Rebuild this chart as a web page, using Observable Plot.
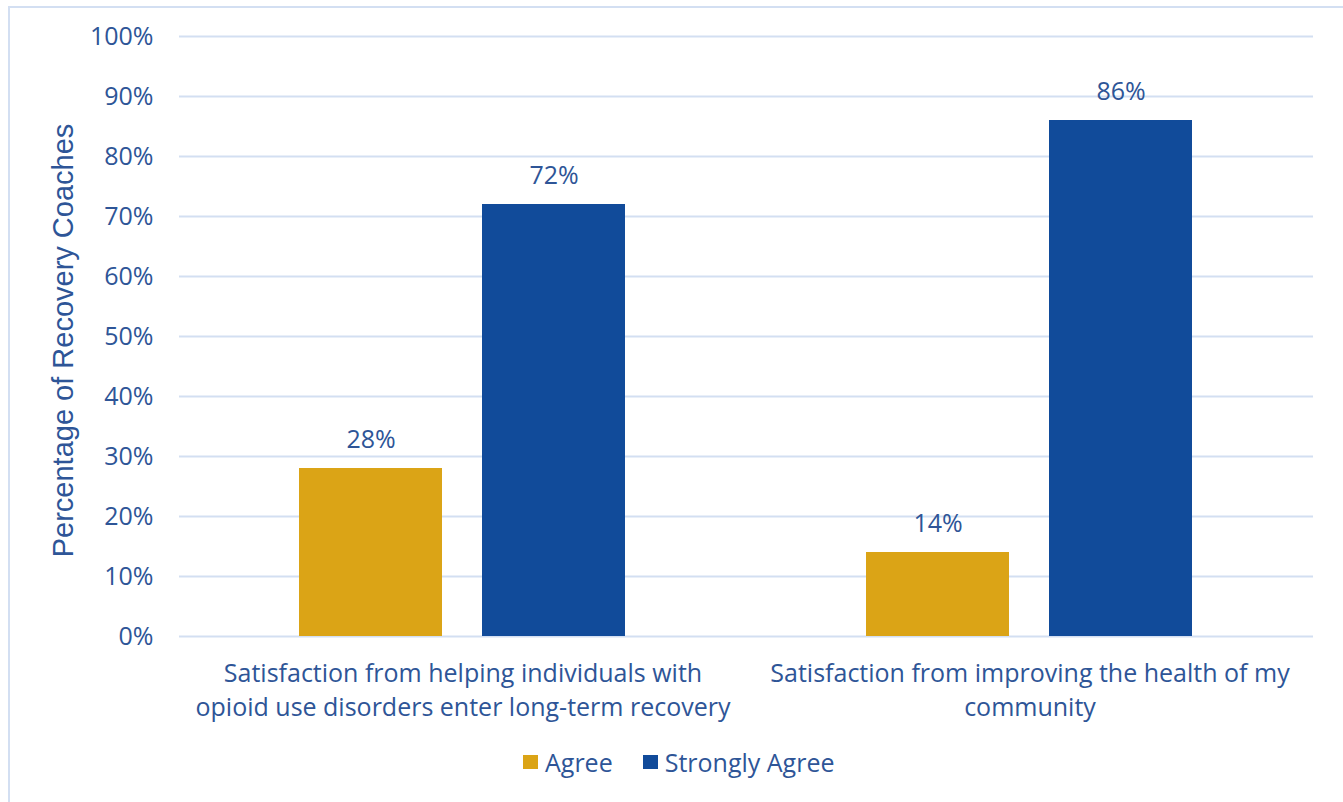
<!DOCTYPE html>
<html>
<head>
<meta charset="utf-8">
<script src="https://cdn.jsdelivr.net/npm/d3@7"></script>
<script src="https://cdn.jsdelivr.net/npm/@observablehq/plot@0.6"></script>
<style>
  html, body { margin: 0; padding: 0; background: #fff; overflow: hidden; width: 1343px; height: 802px; }
  #frame { position: absolute; left: 8px; top: 6px; width: 1400px; height: 900px; border: 2px solid #d3dff2; box-sizing: border-box; }
  #chart { position: absolute; left: 0; top: 0; }
  #legend { position: absolute; left: 523px; top: 744px; height: 36px; line-height: 36px; display: flex; align-items: center; font-family: "Open Sans", sans-serif; font-size: 25px; color: #2E5597; }
  .item { display: flex; align-items: center; gap: 7px; margin-right: 30px; }
  .sw { width: 15px; height: 14px; display: inline-block; }
</style>
</head>
<body>
<div id="frame"></div>
<div id="chart"></div>
<div id="legend"></div>
<script>
const categories = [
  "Satisfaction from helping individuals with opioid use disorders enter long-term recovery",
  "Satisfaction from improving the health of my community"
];
const categoryLabelLines = [
  ["Satisfaction from helping individuals with", "opioid use disorders enter long-term recovery"],
  ["Satisfaction from improving the health of my", "community"]
];
const series = ["Agree", "Strongly Agree"];
const agreeValues = [28, 14];
const stronglyAgreeValues = [72, 86];
const seriesColors = ["#DBA416", "#114B9A"];
const yTicks = [0, 10, 20, 30, 40, 50, 60, 70, 80, 90, 100];
const yLabel = "Percentage of Recovery Coaches";

const textColor = "#2E5597";
const gridColor = "#d3dff2";
const font = "'Open Sans', sans-serif";

const data = [];
categories.forEach((c, i) => {
  data.push({category: c, series: series[0], value: agreeValues[i]});
  data.push({category: c, series: series[1], value: stronglyAgreeValues[i]});
});
const labelMap = new Map(categories.map((c, i) => [c, categoryLabelLines[i].join("\n")]));

const chart = Plot.plot({
  width: 1343,
  height: 730,
  marginLeft: 178,
  marginRight: 30,
  marginTop: 36,
  marginBottom: 94,
  style: {fontFamily: font, fontSize: "25px", color: textColor, background: "transparent", overflow: "visible"},
  fx: {domain: categories, padding: 0, label: null},
  x: {domain: series, paddingInner: 0.2174, paddingOuter: 0.6508, axis: null},
  y: {domain: [0, 100], label: null},
  color: {domain: series, range: seriesColors},
  marks: [
    Plot.gridY(yTicks, {stroke: gridColor, strokeOpacity: 1, strokeWidth: 2}),
    Plot.axisY(yTicks, {
      tickSize: 0, tickPadding: 26, tickFormat: d => d + "%", fontSize: 25,
      label: null
    }),
    Plot.text([yLabel], {frameAnchor: "left", dx: -127, dy: 4, rotate: -90, textAnchor: "middle", fontSize: 29, fontFamily: "'Liberation Sans', Arial, sans-serif", fill: textColor, lineAnchor: "top", facet: "super"}),
    Plot.barY(data, {fx: "category", x: "series", y: "value", fill: "series"}),
    Plot.text(data, {fx: "category", x: "series", y: "value", text: d => d.value + "%", dy: -29, fontSize: 25, fill: textColor}),
    Plot.axisFx({anchor: "bottom", tickSize: 0, tickPadding: 21, lineHeight: 1.36, fontSize: 25, label: null, tickFormat: d => labelMap.get(d)})
  ]
});
document.getElementById("chart").append(chart);

const legend = document.getElementById("legend");
series.forEach((s, i) => {
  const item = document.createElement("div");
  item.className = "item";
  const sw = document.createElement("span");
  sw.className = "sw";
  sw.style.background = seriesColors[i];
  const t = document.createElement("span");
  t.textContent = s;
  item.append(sw, t);
  legend.append(item);
});
</script>
</body>
</html>
